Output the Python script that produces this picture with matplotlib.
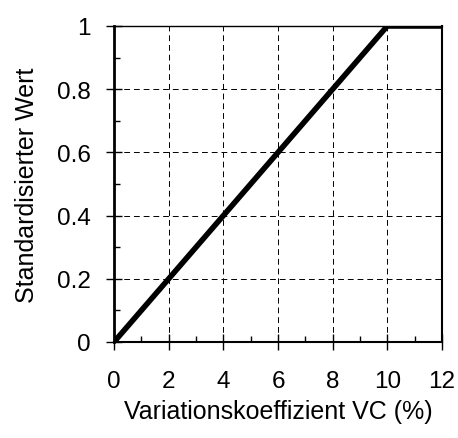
import matplotlib
matplotlib.use("Agg")
import matplotlib.pyplot as plt
from matplotlib.ticker import MultipleLocator

plt.rcParams['font.family'] = ['Liberation Sans', 'DejaVu Sans']

# Daten: Variationskoeffizient vs. standardisierter Wert
vc = [0, 10, 12]
wert = [0, 1, 1]

fig = plt.figure(figsize=(4.58, 4.39), dpi=100)
ax = fig.add_axes([0.249, 0.2187, 0.716, 0.7198])

ax.plot(vc, wert, color='black', lw=4, solid_capstyle='round', zorder=3)

ax.set_xlim(0, 12)
ax.set_ylim(0, 1)
ax.xaxis.set_major_locator(MultipleLocator(2))
ax.xaxis.set_minor_locator(MultipleLocator(1))
ax.yaxis.set_minor_locator(MultipleLocator(0.1))
ax.set_yticks([0, 0.2, 0.4, 0.6, 0.8, 1])
ax.set_yticklabels(['0', '0.2', '0.4', '0.6', '0.8', '1'])

ax.grid(True, which='major', color='black', linestyle=(0, (6, 4)), lw=0.7)
ax.tick_params(which='major', direction='inout', length=12, width=1, labelsize=17.5)
ax.tick_params(axis='x', which='major', pad=14)
ax.tick_params(axis='y', which='major', pad=11)
ax.tick_params(which='minor', direction='in', length=4.5, width=1)

ax.spines['left'].set_linewidth(2)
ax.spines['bottom'].set_linewidth(1.5)
ax.spines['top'].set_linewidth(1)
ax.spines['right'].set_linewidth(1.5)

ax.set_xlabel('Variationskoeffizient VC (%)', fontsize=18, labelpad=5)
ax.set_ylabel('Standardisierter Wert', fontsize=18, labelpad=13)

fig.savefig('out.png', dpi=100)
